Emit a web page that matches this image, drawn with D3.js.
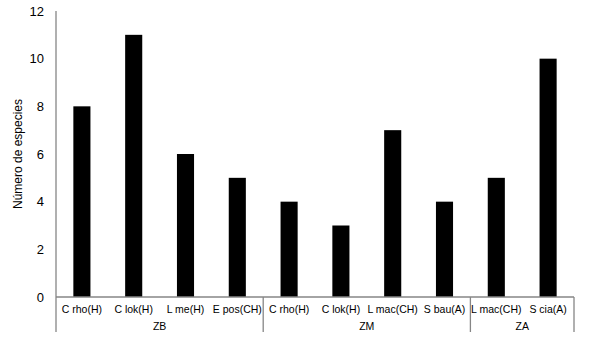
<!DOCTYPE html>
<html>
<head>
<meta charset="utf-8">
<script src="https://cdn.jsdelivr.net/npm/d3@7"></script>
<style>
  body { margin: 0; background: #fff; }
  text { font-family: "Liberation Sans", Arial, sans-serif; }
</style>
</head>
<body>
<div id="chart"></div>
<script>
// data
var categories = ["C rho(H)", "C lok(H)", "L me(H)", "E pos(CH)",
                  "C rho(H)", "C lok(H)", "L mac(CH)", "S bau(A)",
                  "L mac(CH)", "S cia(A)"];
var zones = ["ZB", "ZB", "ZB", "ZB", "ZM", "ZM", "ZM", "ZM", "ZA", "ZA"];
var values = [8, 11, 6, 5, 4, 3, 7, 4, 5, 10];
var yTicks = [0, 2, 4, 6, 8, 10, 12];

var width = 589, height = 345;
var margin = {top: 11, right: 15, bottom: 48, left: 56};

var svg = d3.select("#chart")
  .append("svg")
    .attr("width", width)
    .attr("height", height);

var x = d3.scaleBand()
    .domain(d3.range(categories.length))
    .range([margin.left, width - margin.right])
    .paddingInner(0.67)
    .paddingOuter(0.335);

var y = d3.scaleLinear()
    .domain([0, 12])
    .range([height - margin.bottom, margin.top]);

var axisColor = "#868686";
var y0 = y(0);

// bars
svg.selectAll("rect.bar")
  .data(values)
  .enter()
  .append("rect")
    .attr("class", "bar")
    .attr("x", function(d, i) { return x(i); })
    .attr("y", function(d) { return y(d); })
    .attr("width", x.bandwidth())
    .attr("height", function(d) { return y0 - y(d); })
    .attr("fill", "#000");

// y axis line
svg.append("line")
  .attr("x1", margin.left).attr("x2", margin.left)
  .attr("y1", y(12)).attr("y2", y0 + 35)
  .attr("stroke", axisColor).attr("stroke-width", 1.3);

// y tick labels
svg.selectAll("text.ytick")
  .data(yTicks)
  .enter()
  .append("text")
    .attr("class", "ytick")
    .attr("x", margin.left - 12)
    .attr("y", function(d) { return y(d); })
    .attr("dy", "0.35em")
    .attr("text-anchor", "end")
    .attr("font-size", 13)
    .attr("fill", "#000")
    .text(function(d) { return d; });

// y label
svg.append("text")
  .attr("transform", "translate(22," + ((y(12) + y0) / 2) + ") rotate(-90)")
  .attr("text-anchor", "middle")
  .attr("font-size", 12)
  .text("Número de especies");

// x baseline
svg.append("line")
  .attr("x1", margin.left).attr("x2", width - margin.right)
  .attr("y1", y0).attr("y2", y0)
  .attr("stroke", axisColor).attr("stroke-width", 1.3);

// category labels
svg.selectAll("text.cat")
  .data(categories)
  .enter()
  .append("text")
    .attr("class", "cat")
    .attr("x", function(d, i) { return x(i) + x.bandwidth() / 2; })
    .attr("y", y0 + 16)
    .attr("text-anchor", "middle")
    .attr("font-size", 10.5)
    .text(function(d) { return d; });

// zone groups
var groups = [];
zones.forEach(function(z, i) {
  var g = groups.find(function(e) { return e.name === z; });
  if (g) g.last = i; else groups.push({name: z, first: i, last: i});
});
var step = x.step();
var edge = function(i) { return margin.left + i * step; };

var seps = [0].concat(groups.map(function(g) { return g.last + 1; }));
svg.selectAll("line.sep")
  .data(seps.slice(1))
  .enter()
  .append("line")
    .attr("class", "sep")
    .attr("x1", function(d) { return edge(d); })
    .attr("x2", function(d) { return edge(d); })
    .attr("y1", y0)
    .attr("y2", y0 + 35)
    .attr("stroke", axisColor).attr("stroke-width", 1.3);

svg.selectAll("text.zone")
  .data(groups)
  .enter()
  .append("text")
    .attr("class", "zone")
    .attr("x", function(g) { return (edge(g.first) + edge(g.last + 1)) / 2; })
    .attr("y", y0 + 33)
    .attr("text-anchor", "middle")
    .attr("font-size", 10.5)
    .text(function(g) { return g.name; });
</script>
</body>
</html>
